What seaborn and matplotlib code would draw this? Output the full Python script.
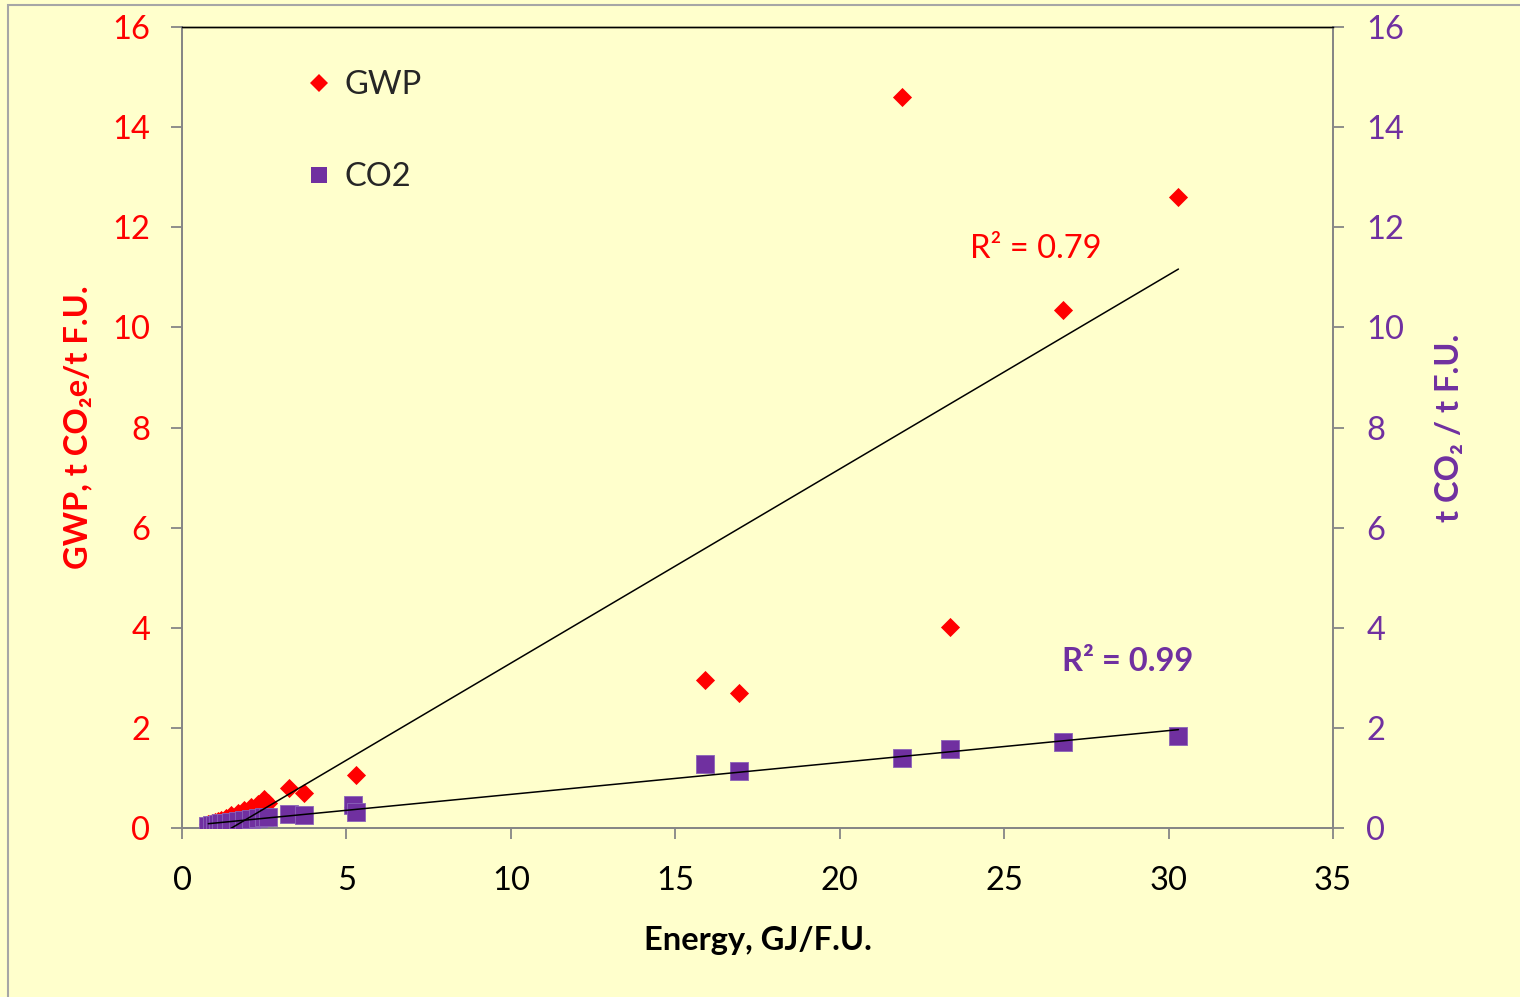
import matplotlib
matplotlib.use("Agg")
import matplotlib.pyplot as plt
import seaborn as sns
import numpy as np
import pandas as pd
from matplotlib.lines import Line2D
from matplotlib.patches import Rectangle

# ---- data ----
energy = [0.8, 0.9, 1.0, 1.1, 1.2, 1.35, 1.5, 1.7, 1.9, 2.1, 2.3, 2.5, 2.6,
          3.25, 3.7, 5.2, 5.3, 15.9, 16.95, 21.9, 23.35, 26.8, 30.3]
gwp = [0.08, 0.10, 0.12, 0.14, 0.16, 0.20, 0.25, 0.30, 0.36, 0.42, 0.48, 0.58, 0.50,
       0.80, 0.70, 0.42, 1.05, 2.95, 2.70, 14.60, 4.02, 10.35, 12.60]
co2 = [0.04, 0.05, 0.06, 0.08, 0.09, 0.10, 0.12, 0.14, 0.15, 0.17, 0.19, 0.21, 0.22,
       0.27, 0.26, 0.46, 0.32, 1.27, 1.14, 1.39, 1.57, 1.72, 1.84]
series_names = ["GWP", "CO2"]
r2_labels = ["R² = 0.79", "R² = 0.99"]
x_ticks = [0, 5, 10, 15, 20, 25, 30, 35]
y_ticks = [0, 2, 4, 6, 8, 10, 12, 14, 16]

df = pd.DataFrame({"energy": energy, "gwp": gwp, "co2": co2})

RED = "#FF0000"
PURPLE = "#7030A0"
BG = "#FFFFCC"
AXGRAY = "#868686"

sns.set_style("white")
plt.rcParams["font.family"] = ["Lato", "DejaVu Sans"]
FS = 23.5

fig = plt.figure(figsize=(15.2, 9.97), dpi=100)
fig.patch.set_facecolor(BG)
fig.patches.append(Rectangle((8 / 1520, -0.05), 1.1, 1 - 5 / 997 + 0.05,
                             transform=fig.transFigure, fill=False,
                             edgecolor="#A6A6A6", linewidth=1.5))

ax = fig.add_axes([182 / 1520, 1 - 828 / 997, (1333 - 182) / 1520, (828 - 27) / 997])
ax.set_facecolor(BG)
ax2 = ax.twinx()

sns.scatterplot(data=df, x="energy", y="gwp", ax=ax, marker="D", s=95,
                color=RED, linewidth=0, zorder=3)
sns.scatterplot(data=df, x="energy", y="co2", ax=ax2, marker="s", s=150,
                color=PURPLE, edgecolor="#8B64B8", linewidth=0.6, zorder=3)
sns.regplot(data=df, x="energy", y="gwp", ax=ax2, scatter=False, ci=None,
            truncate=True, line_kws={"color": "black", "linewidth": 1.1, "zorder": 4})
sns.regplot(data=df, x="energy", y="co2", ax=ax2, scatter=False, ci=None,
            truncate=True, line_kws={"color": "black", "linewidth": 1.1, "zorder": 4})

for a in (ax, ax2):
    a.set_xlim(0, 35)
    a.set_ylim(0, 16)
    a.set_yticks(y_ticks)
    for side in ("left", "right", "bottom"):
        a.spines[side].set_color(AXGRAY)
        a.spines[side].set_linewidth(1.3)
    a.spines["top"].set_color("black")
    a.spines["top"].set_linewidth(1.0)

ax.set_xticks(x_ticks)
ax.tick_params(axis="x", direction="out", length=8, width=1.3, color=AXGRAY,
               labelsize=FS, labelcolor="black", pad=19, bottom=True)
ax.tick_params(axis="y", direction="out", length=8, width=1.3, color=AXGRAY,
               labelsize=FS, labelcolor=RED, pad=15, left=True)
ax2.tick_params(axis="y", direction="out", length=8, width=1.3, color=AXGRAY,
                labelsize=FS, labelcolor=PURPLE, pad=16, right=True)

ax.set_xlabel("Energy, GJ/F.U.", fontsize=FS, fontweight="bold", color="black", labelpad=22)
ax.set_ylabel("GWP, t CO₂e/t F.U.", fontsize=FS, fontweight="bold", color=RED, labelpad=14)
ax2.set_ylabel("t CO₂ / t F.U.", fontsize=FS, fontweight="bold", color=PURPLE, labelpad=22)

ax2.text(23.96, 11.57, r2_labels[0], color=RED, fontsize=FS, ha="left", va="center")
ax2.text(26.76, 3.32, r2_labels[1], color=PURPLE, fontsize=FS, fontweight="bold",
         ha="left", va="center")

handles = [Line2D([], [], linestyle="none", marker="D", markersize=9.5, color=RED,
                  markeredgewidth=0),
           Line2D([], [], linestyle="none", marker="s", markersize=12, color=PURPLE,
                  markeredgewidth=0)]
leg = ax2.legend(handles, series_names, loc="upper left",
                 bbox_to_anchor=(302 / 1520, 1 - 70 / 997), bbox_transform=fig.transFigure,
                 frameon=False, fontsize=FS, handlelength=1.05, handletextpad=0.25,
                 labelspacing=1.9, borderpad=0, borderaxespad=0)

fig.savefig("out.png", dpi=100, facecolor=BG)
